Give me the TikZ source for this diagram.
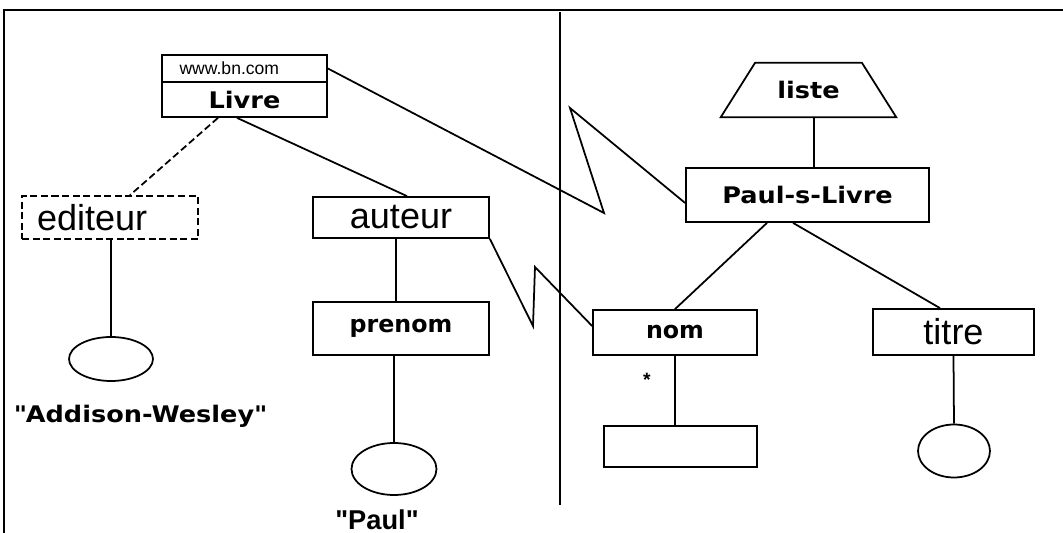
\documentclass[tikz,border=0pt]{standalone}
\usepackage{fontspec}
\setmainfont{Liberation Sans}
\newfontfamily\widesans[FakeStretch=1.12]{DejaVu Sans}
\newfontfamily\plainsans{DejaVu Sans}
\usetikzlibrary{positioning,shapes.geometric,calc}
\tikzset{
    box/.style={rectangle, draw, line width=1pt, inner sep=0pt, align=center},
    dbox/.style={box, dash pattern=on 4pt off 2pt},
    val/.style={ellipse, draw, line width=1pt, inner sep=0pt},
    link/.style={line width=1pt},
    dlink/.style={link, dash pattern=on 4pt off 2pt},
    headfont/.style={font=\widesans\bfseries\fontsize{13}{15}\selectfont},
    keyfont/.style={font=\plainsans\bfseries\fontsize{13.5}{16}\selectfont},
    elemfont/.style={font=\fontsize{20.5}{23}\selectfont},
    litfont/.style={font=\bfseries\fontsize{15.5}{18}\selectfont}
}
\begin{document}
\begin{tikzpicture}[x=0.02cm, y=-0.02cm]
\useasboundingbox (0,0) rectangle (1063,533);

\draw[line width=1.1pt] (4,533) -- (4,10) -- (1063,10);
\coordinate (sepTop) at (560,12);
\coordinate (sepBot) at (560,505);
\draw[link] (sepTop) -- (sepBot);

% left tree
\node[box, minimum width=3.3cm, minimum height=0.54cm, text width=2.6cm, align=left, font=\fontsize{10}{11}\selectfont] (livreurl) at (244.5,68.5) {www.bn.com};
\node[box, headfont, minimum width=3.3cm, minimum height=0.7cm, below=-1pt of livreurl] (livre) {Livre};

\node[dbox, elemfont, minimum width=3.52cm, minimum height=0.86cm, text width=2.92cm, align=left] (editeur) at (110,217.5) {editeur};
\node[val, minimum width=1.68cm, minimum height=0.88cm] (edval) at (111,359) {};
\node[headfont] (edlit) at (140,416) {\textquotedbl Addison-Wesley\textquotedbl};

\node[box, elemfont, minimum width=3.52cm, minimum height=0.82cm] (auteur) at (401,217.5) {auteur};
\node[box, keyfont, minimum width=3.52cm, minimum height=1.06cm] (prenom) at (401,328.5) {prenom};
\node[val, minimum width=1.7cm, minimum height=1.04cm] (paulval) at (394,469) {};
\node[litfont] (paullit) at (377,520) {\textquotedbl Paul\textquotedbl};

% right tree
\node[headfont, minimum width=3.5cm, minimum height=1.08cm, inner sep=0pt] (liste) at (808.5,90) {liste};
\draw[link] (liste.south west) -- ([xshift=0.69cm]liste.north west) -- ([xshift=-0.69cm]liste.north east) -- (liste.south east) -- cycle;
\node[box, headfont, minimum width=4.86cm, minimum height=1.08cm] (psl) at (807.5,195) {Paul-s-Livre};
\node[box, keyfont, minimum width=3.28cm, minimum height=0.9cm] (nom) at (675,332.5) {nom};
\node[box, minimum width=3.06cm, minimum height=0.82cm] (leer) at (680.5,446.5) {};
\node[font=\bfseries\fontsize{11}{12}\selectfont] (star) at (647,380) {*};
\node[box, elemfont, minimum width=3.22cm, minimum height=0.92cm] (titre) at (953.5,332) {titre};
\node[val, minimum width=1.44cm, minimum height=1.06cm] (titreval) at (954,451) {};

\draw[dlink] ([xshift=-0.53cm]livre.south) -- ([xshift=0.4cm]editeur.north);
\draw[link] ([xshift=-0.15cm]livre.south) -- ([xshift=0.12cm]auteur.north);
\draw[link] (edval.north) -- (edval.north |- editeur.south);
\draw[link] ([xshift=-0.1cm]auteur.south) -- ([xshift=-0.1cm]prenom.north);
\draw[link] (paulval.north) -- (paulval.north |- prenom.south);

\draw[link] ([xshift=0.11cm]liste.south) -- ([xshift=0.11cm]liste.south |- psl.north);
\draw[link] ([xshift=-0.81cm]psl.south) -- (nom.north);
\draw[link] ([xshift=-0.29cm]psl.south) -- ([xshift=-0.27cm]titre.north);
\draw[link] (nom.south) -- (nom.south |- leer.north);
\draw[link] (titre.south) -- (titreval.north);

% cross links
\coordinate (zigA) at (604,213);
\coordinate (zigB) at (570,108);
\draw[link] (livreurl.east) -- (zigA) -- (zigB) -- ([yshift=-0.16cm]psl.west);
\coordinate (zigC) at (533,326);
\coordinate (zigD) at (535,267);
\draw[link] (auteur.south east) -- (zigC) -- (zigD) -- ([yshift=0.13cm]nom.west);

\end{tikzpicture}
\end{document}
